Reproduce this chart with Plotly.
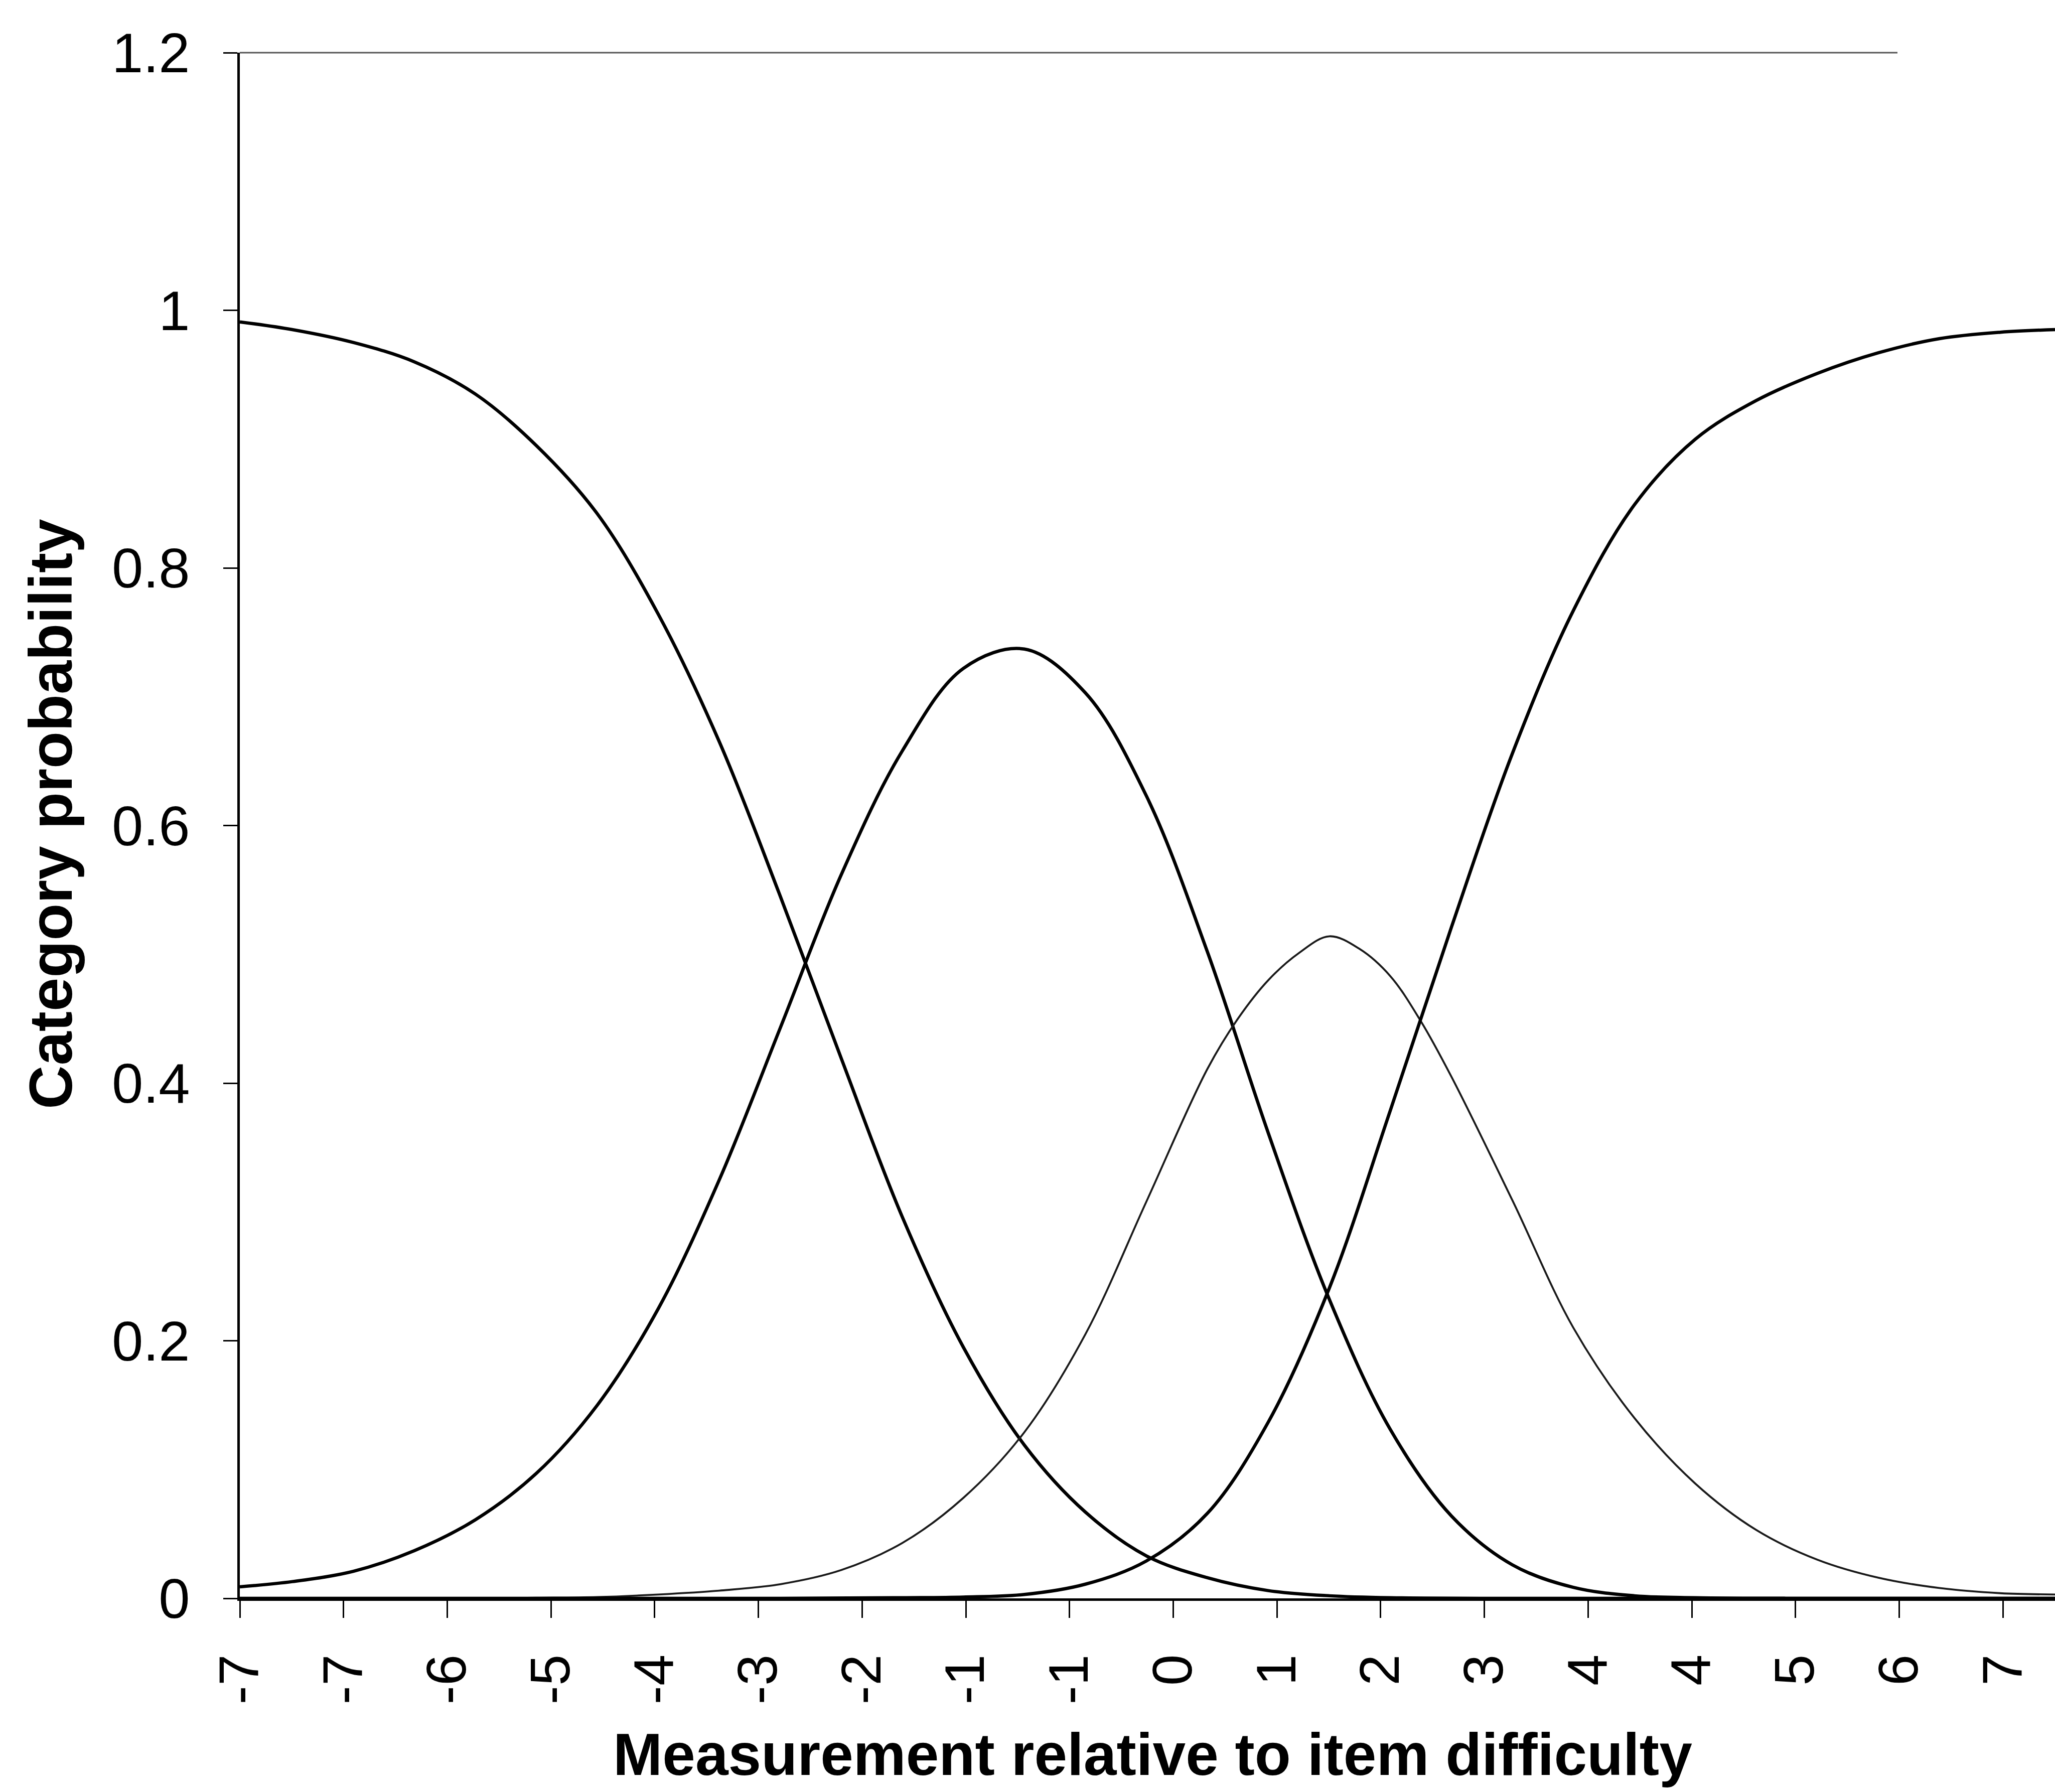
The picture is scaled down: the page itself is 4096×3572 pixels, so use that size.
import plotly.graph_objects as go

# ---------------- data ----------------
TICK_LABELS = ["-7", "-7", "-6", "-5", "-4", "-3", "-2", "-1", "-1",
               "0", "1", "2", "3", "4", "4", "5", "6", "7"]
Y_TICKS = [0, 0.2, 0.4, 0.6, 0.8, 1.0, 1.2]
Y_TICK_LABELS = ["0", "0.2", "0.4", "0.6", "0.8", "1", "1.2"]

cat0_x = [-7.43, -7.0, -6.5, -6.0, -5.5, -5.0, -4.5, -4.0, -3.5, -3.0,
          -2.5, -2.0, -1.5, -1.0, -0.5, 0.0, 0.5, 1.0, 1.5, 2.0,
          3.0, 5.0, 7.447]
cat0_y = [0.991, 0.985, 0.975, 0.960, 0.935, 0.895, 0.842, 0.764, 0.665, 0.545,
          0.419, 0.296, 0.195, 0.119, 0.067, 0.033, 0.016, 0.006, 0.002, 0.0005,
          0.0, 0.0, 0.0]

cat1_x = [-7.43, -7.0, -6.5, -6.0, -5.5, -5.0, -4.5, -4.0, -3.5, -3.0,
          -2.5, -2.0, -1.5, -1.0, -0.5, 0.0, 0.5, 1.0, 1.5, 2.0,
          2.5, 3.0, 3.5, 4.0, 4.5, 5.5, 7.447]
cat1_y = [0.009, 0.013, 0.021, 0.037, 0.061, 0.097, 0.150, 0.225, 0.325, 0.443,
          0.562, 0.658, 0.722, 0.737, 0.703, 0.623, 0.502, 0.361, 0.232, 0.131,
          0.064, 0.026, 0.0085, 0.002, 0.0005, 0.0, 0.0]

cat2_x = [-7.43, -5.5, -5.0, -4.5, -4.0, -3.5, -3.0, -2.5, -2.0, -1.5,
          -1.0, -0.5, 0.0, 0.5, 0.75, 1.0, 1.25, 1.5, 1.75, 2.0,
          2.25, 2.5, 3.0, 3.5, 4.0, 4.5, 5.0, 5.5, 6.0, 6.5,
          7.0, 7.447]
cat2_y = [0.0, 0.0002, 0.0005, 0.001, 0.003, 0.006, 0.011, 0.022, 0.043, 0.078,
          0.129, 0.205, 0.308, 0.411, 0.450, 0.480, 0.501, 0.514, 0.504, 0.483,
          0.448, 0.405, 0.309, 0.210, 0.140, 0.089, 0.053, 0.030, 0.016, 0.008,
          0.004, 0.003]

cat3_x = [-7.43, -3.0, -2.0, -1.5, -1.0, -0.5, 0.0, 0.5, 1.0, 1.5,
          2.0, 2.5, 3.0, 3.5, 4.0, 4.5, 5.0, 5.5, 6.0, 6.5,
          7.0, 7.447]
cat3_y = [0.0, 0.0, 0.0005, 0.001, 0.003, 0.011, 0.029, 0.066, 0.137, 0.241,
          0.379, 0.521, 0.656, 0.767, 0.849, 0.900, 0.930, 0.951, 0.967, 0.978,
          0.983, 0.985]

# ---------------- layout constants ----------------
W, H = 4096, 3572
ML, MR, MT, MB = 478, 0, 105, 386
X_START, TICK_STEP = -7.43, 0.85
X_END = 7.447
FONT = "Liberation Sans, Arial, sans-serif"

tickvals = [X_START + i * TICK_STEP for i in range(len(TICK_LABELS))]

fig = go.Figure()
series = [(cat0_x, cat0_y, 6.5, "black"), (cat1_x, cat1_y, 6.5, "black"),
          (cat2_x, cat2_y, 3.8, "#1a1a1a"), (cat3_x, cat3_y, 6.5, "black")]
for xs, ys, lw, col in series:
    fig.add_trace(go.Scatter(x=xs, y=ys, mode="lines",
                             line=dict(color=col, width=lw, shape="spline", smoothing=1.0),
                             hoverinfo="skip"))

plot_w = W - ML - MR
plot_h = H - MT - MB

def px_to_paper_x(px):
    return (px - ML) / plot_w

def px_to_paper_y(py):
    return (H - MB - py) / plot_h

fig.update_layout(
    width=W, height=H,
    margin=dict(l=ML, r=MR, t=MT, b=MB, pad=0),
    paper_bgcolor="white", plot_bgcolor="white",
    showlegend=False,
    font=dict(family=FONT, color="black", size=112),
    xaxis=dict(range=[X_START, X_END], tickmode="array", tickvals=tickvals,
               ticktext=TICK_LABELS, tickangle=-90, ticks="outside", ticklen=34,
               tickwidth=2.5, tickcolor="black", showline=True, linecolor="black",
               linewidth=5, showgrid=False, zeroline=False,
               tickfont=dict(family=FONT, size=112, color="black"),
               ticklabelstandoff=28),
    yaxis=dict(range=[0, 1.2], tickmode="array", tickvals=Y_TICKS,
               ticktext=Y_TICK_LABELS, ticks="outside", ticklen=28, tickwidth=2.5,
               tickcolor="black", showline=True, linecolor="black", linewidth=5,
               showgrid=False, zeroline=False,
               tickfont=dict(family=FONT, size=112, color="black"),
               ticklabelstandoff=44),
    shapes=[dict(type="line", xref="paper", yref="paper",
                 x0=0, x1=px_to_paper_x(3782), y0=1, y1=1,
                 line=dict(color="#555555", width=3))],
    annotations=[
        dict(text="<b>Measurement relative to item difficulty</b>",
             xref="paper", yref="paper", x=px_to_paper_x(2297), y=px_to_paper_y(3497),
             xanchor="center", yanchor="middle", showarrow=False,
             font=dict(family=FONT, size=118, color="black")),
        dict(text="<b>Category probability</b>", textangle=-90,
             xref="paper", yref="paper", x=px_to_paper_x(101), y=px_to_paper_y(1623),
             xanchor="center", yanchor="middle", showarrow=False,
             font=dict(family=FONT, size=121, color="black")),
    ],
)

fig.write_html("out.html")
